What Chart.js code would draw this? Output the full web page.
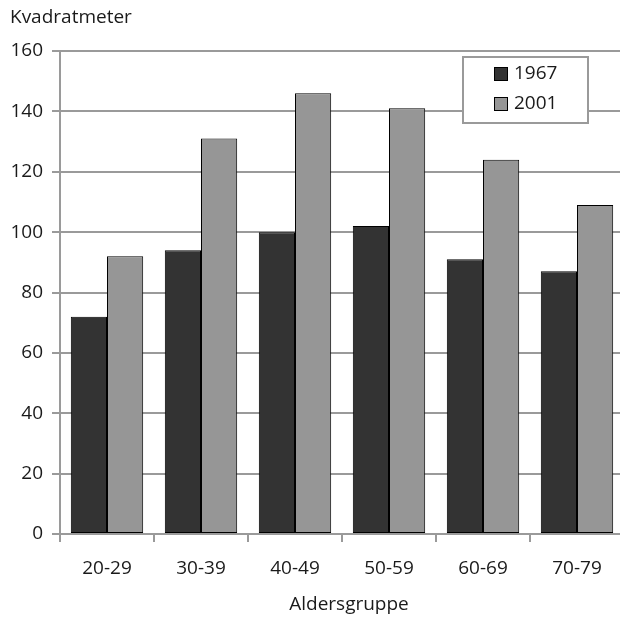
<!DOCTYPE html>
<html><head><meta charset="utf-8">
<script src="https://cdn.jsdelivr.net/npm/chart.js@4/dist/chart.umd.min.js"></script>
<style>html,body{margin:0;padding:0;overflow:hidden;background:#fff}</style>
</head>
<body><canvas id="c" width="624" height="619"></canvas>
<script>
const categories = ['20-29','30-39','40-49','50-59','60-69','70-79'];
const series1967 = [72, 94, 100, 102, 91, 87];
const series2001 = [92, 131, 146, 141, 124, 109];
const seriesNames = ['1967', '2001'];
const yAxisTitle = 'Kvadratmeter';
const xAxisTitle = 'Aldersgruppe';
const yMin = 0, yMax = 160, yStep = 20;

const FONT = '"Open Sans", "Noto Sans", sans-serif';
const GRID = '#9a9a9a';
const TEXT = '#1a1a1a';

const extras = {
  id: 'extras',
  afterDraw(chart) {
    const ctx = chart.ctx;
    ctx.save();
    ctx.fillStyle = TEXT;
    ctx.font = '19px ' + FONT;
    ctx.textBaseline = 'middle';
    ctx.textAlign = 'left';
    ctx.fillText(yAxisTitle, 10, 18);
    ctx.textAlign = 'center';
    ctx.fillText(xAxisTitle, 349, 605);
    // legend box
    const bx = 463, by = 57, bw = 125, bh = 66;
    ctx.fillStyle = '#fff';
    ctx.fillRect(bx, by, bw, bh);
    ctx.strokeStyle = GRID;
    ctx.lineWidth = 2;
    ctx.strokeRect(bx, by, bw, bh);
    chart.data.datasets.forEach((ds, i) => {
      const cy = 74 + i * 30;
      ctx.fillStyle = ds.backgroundColor;
      ctx.fillRect(494, cy - 7, 14, 14);
      ctx.strokeStyle = '#000';
      ctx.lineWidth = 1;
      ctx.strokeRect(494.5, cy - 6.5, 13, 13);
      ctx.fillStyle = TEXT;
      ctx.font = '19px ' + FONT;
      ctx.textAlign = 'left';
      ctx.fillText(ds.label, 514, cy);
    });
    ctx.restore();
  }
};

new Chart(document.getElementById('c'), {
  type: 'bar',
  data: {
    labels: categories,
    datasets: [
      { label: seriesNames[0], data: series1967, backgroundColor: '#333333', borderColor: '#000', borderWidth: 1, borderSkipped: false },
      { label: seriesNames[1], data: series2001, backgroundColor: '#969696', borderColor: '#000', borderWidth: 1, borderSkipped: false }
    ]
  },
  options: {
    responsive: false,
    animation: false,
    devicePixelRatio: 1,
    layout: { padding: { top: 51, left: 0, right: 0, bottom: 0 } },
    datasets: { bar: { barPercentage: 1, categoryPercentage: 0.77 } },
    plugins: { legend: { display: false }, tooltip: { enabled: false } },
    scales: {
      x: {
        afterFit(s) { s.height = 85; },
        grid: { drawOnChartArea: false, drawTicks: true, tickLength: 8, color: GRID, lineWidth: 2, offset: true },
        border: { color: GRID, width: 2 },
        ticks: { color: TEXT, font: { family: FONT, size: 19 }, padding: 15 }
      },
      y: {
        min: yMin, max: yMax,
        afterFit(s) { s.width = 60; },
        grid: { color: GRID, lineWidth: 2, tickLength: 8 },
        border: { color: GRID, width: 2 },
        ticks: { stepSize: yStep, color: TEXT, font: { family: FONT, size: 19 }, padding: 9 }
      }
    }
  },
  plugins: [extras]
});
</script>
</body></html>
